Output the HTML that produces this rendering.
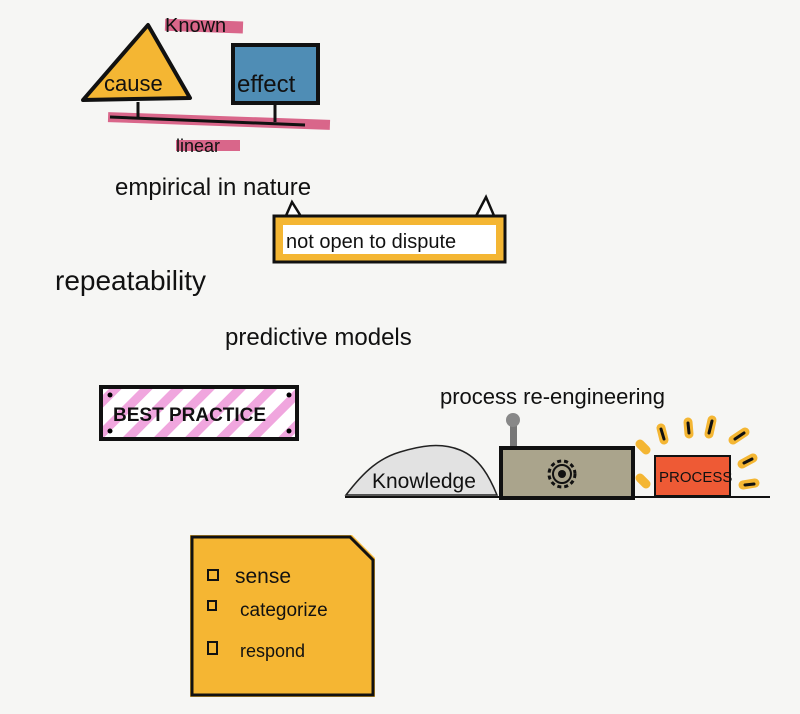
<!DOCTYPE html>
<html><head><meta charset="utf-8"><style>
html,body{margin:0;padding:0;background:#f6f6f4;}
svg{display:block}
text{font-family:"Liberation Sans",sans-serif;fill:#111;}
</style></head><body>
<svg width="800" height="714" viewBox="0 0 800 714" xmlns="http://www.w3.org/2000/svg">
<defs>
<pattern id="st" width="22" height="22" patternUnits="userSpaceOnUse" patternTransform="rotate(45)">
<rect width="22" height="22" fill="#fff"/><rect width="9" height="22" fill="#f0a6de"/>
</pattern>
</defs>
<rect width="800" height="714" fill="#f6f6f4"/>
<rect x="165" y="20" width="78" height="12" fill="#d9668a" transform="rotate(2 200 26)"/>
<text x="165" y="32" font-size="20">Known</text>
<polygon points="83,100 148,25 190,98" fill="#f4b633" stroke="#111" stroke-width="4" stroke-linejoin="round"/>
<text x="104" y="91" font-size="22">cause</text>
<rect x="233" y="45" width="85" height="58" fill="#4f8db5" stroke="#111" stroke-width="4"/>
<text x="237" y="92" font-size="24">effect</text>
<rect x="108" y="116" width="222" height="10" fill="#d9668a" transform="rotate(2 220 121)"/>
<line x1="110" y1="117" x2="305" y2="125" stroke="#111" stroke-width="3"/>
<line x1="138" y1="102" x2="138" y2="118" stroke="#111" stroke-width="3"/>
<line x1="275" y1="104" x2="275" y2="122" stroke="#111" stroke-width="3"/>
<rect x="176" y="140" width="64" height="11" fill="#d9668a"/>
<text x="176" y="152" font-size="18">linear</text>
<text x="115" y="195" font-size="24">empirical in nature</text>
<path d="M285,218 L292,202 L302,218 M475,218 L486,197 L495,218" fill="#fff" stroke="#111" stroke-width="2.5"/>
<rect x="274" y="216" width="231" height="46" fill="#f4b633" stroke="#111" stroke-width="3"/>
<rect x="283" y="225" width="213" height="29" fill="#fff"/>
<text x="286" y="248" font-size="20">not open to dispute</text>
<text x="55" y="290" font-size="28">repeatability</text>
<text x="225" y="345" font-size="24">predictive models</text>
<rect x="101" y="387" width="196" height="52" fill="url(#st)" stroke="#111" stroke-width="4"/>
<circle cx="110" cy="395" r="2.5"/><circle cx="289" cy="395" r="2.5"/><circle cx="110" cy="431" r="2.5"/><circle cx="289" cy="431" r="2.5"/>
<text x="113" y="421" font-size="19" font-weight="bold">BEST PRACTICE</text>
<text x="440" y="404" font-size="22">process re-engineering</text>
<path d="M346,495 C365,470 380,458 400,452 C420,446 440,442 460,450 C480,458 490,478 497,495 Z" fill="#e2e2e2" stroke="#222" stroke-width="1.5"/>
<text x="372" y="488" font-size="21">Knowledge</text>
<rect x="510" y="425" width="7" height="24" fill="#777"/>
<circle cx="513" cy="420" r="7" fill="#888"/>
<rect x="501" y="448" width="132" height="50" fill="#aaa48c" stroke="#111" stroke-width="4"/>
<circle cx="562" cy="474" r="13" fill="none" stroke="#111" stroke-width="3" stroke-dasharray="4 3"/>
<circle cx="562" cy="474" r="9" fill="none" stroke="#111" stroke-width="2"/>
<circle cx="562" cy="474" r="4" fill="#111"/>
<rect x="655" y="456" width="75" height="40" fill="#ee5a35" stroke="#111" stroke-width="2"/>
<text x="659" y="482" font-size="15">PROCESS</text>
<g stroke="#f4b633" stroke-width="9" stroke-linecap="round">
<line x1="661" y1="428" x2="664" y2="440"/><line x1="688" y1="422" x2="689" y2="434"/><line x1="712" y1="420" x2="709" y2="434"/>
<line x1="733" y1="440" x2="745" y2="432"/><line x1="742" y1="464" x2="753" y2="458"/><line x1="743" y1="485" x2="755" y2="483"/>
<line x1="640" y1="444" x2="646" y2="450"/><line x1="640" y1="478" x2="646" y2="484"/></g>
<g stroke="#111" stroke-width="3" stroke-linecap="round">
<line x1="661" y1="429" x2="664" y2="439"/><line x1="688" y1="423" x2="689" y2="433"/><line x1="712" y1="421" x2="709" y2="433"/>
<line x1="735" y1="439" x2="744" y2="433"/><line x1="744" y1="463" x2="752" y2="459"/><line x1="745" y1="485" x2="754" y2="484"/></g>
<line x1="345" y1="497" x2="770" y2="497" stroke="#111" stroke-width="2"/>
<path d="M190,535 L352,535 L375,558 L375,697 L190,697 Z" fill="#f5b633"/>
<path d="M192,537 L350,537 L373,560 L373,695 L192,695 Z" fill="none" stroke="#111" stroke-width="3"/>
<rect x="208" y="570" width="10" height="10" fill="none" stroke="#111" stroke-width="2"/>
<text x="235" y="583" font-size="21">sense</text>
<rect x="208" y="601" width="8" height="9" fill="none" stroke="#111" stroke-width="2"/>
<text x="240" y="616" font-size="19">categorize</text>
<rect x="208" y="642" width="9" height="12" fill="none" stroke="#111" stroke-width="2"/>
<text x="240" y="657" font-size="18">respond</text>
</svg>
</body></html>
